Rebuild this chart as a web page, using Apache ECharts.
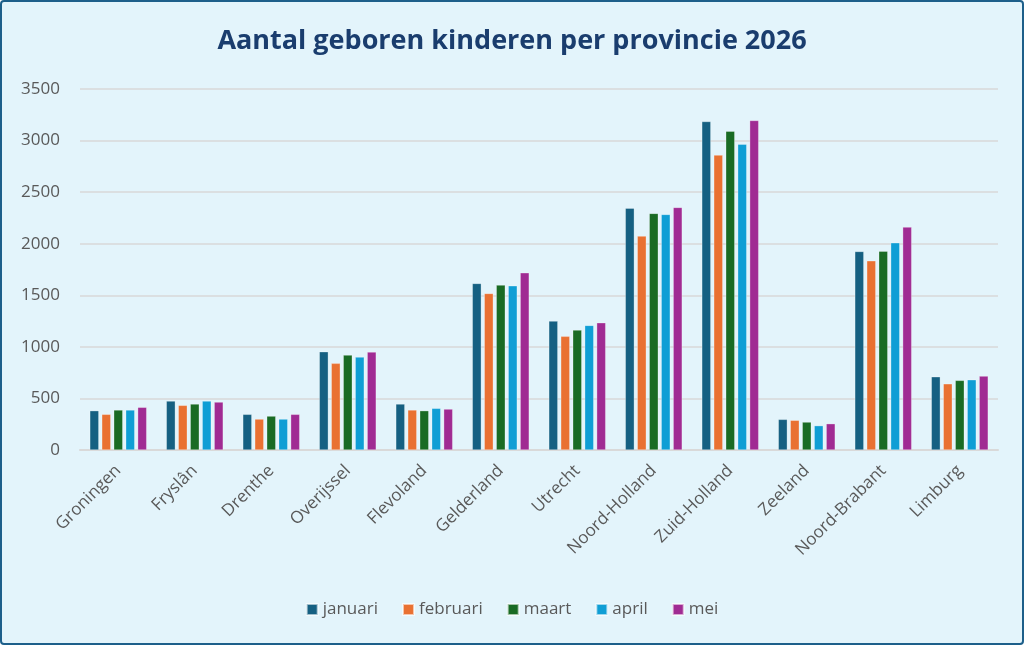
<!DOCTYPE html>
<html>
<head>
<meta charset="utf-8">
<script src="https://cdn.jsdelivr.net/npm/echarts@6/dist/echarts.min.js"></script>
<style>
  html, body { margin: 0; padding: 0; background: #ffffff; }
  #chart {
    width: 1024px; height: 645px; box-sizing: border-box;
    border: 2px solid #1d5f8a; border-radius: 4px; background: #e3f4fb;
  }
</style>
</head>
<body>
<div id="chart"></div>
<script>
// provinces
const provincies = ['Groningen', 'Fryslân', 'Drenthe', 'Overijssel', 'Flevoland', 'Gelderland',
  'Utrecht', 'Noord-Holland', 'Zuid-Holland', 'Zeeland', 'Noord-Brabant', 'Limburg'];

// births per month
const januari  = [381, 475, 346, 953, 446, 1615, 1250, 2345, 3185, 297, 1925, 710];
const februari = [346, 433, 300, 840, 388, 1518, 1102, 2074, 2859, 288, 1834, 642];
const maart    = [388, 446, 329, 920, 381, 1599, 1163, 2294, 3091, 271, 1928, 675];
const april    = [388, 475, 300, 901, 404, 1592, 1208, 2284, 2965, 236, 2009, 681];
const mei      = [414, 465, 346, 950, 397, 1718, 1234, 2352, 3195, 255, 2161, 717];

const maanden = ['januari', 'februari', 'maart', 'april', 'mei'];
const kleuren = ['#156082', '#e97132', '#196b24', '#0f9ed5', '#a02b93'];
const reeksen = [januari, februari, maart, april, mei];

const font = '"Open Sans", "Noto Sans", sans-serif';
const chart = echarts.init(document.getElementById('chart'));

chart.setOption({
  animation: false,
  textStyle: { fontFamily: font },
  title: {
    text: 'Aantal geboren kinderen per provincie 2026',
    left: 'center', top: 21,
    textStyle: { fontFamily: font, fontSize: 27, fontWeight: 'bold', color: '#1a3d6e' }
  },
  legend: {
    bottom: 20, left: 'center',
    itemWidth: 11, itemHeight: 11, itemGap: 24,
    icon: 'rect',
    textStyle: { fontFamily: font, fontSize: 17, color: '#595959' },
    data: maanden
  },
  grid: { left: 78, right: 24, top: 87, bottom: 193 },
  xAxis: {
    type: 'category',
    data: provincies,
    axisLine: { lineStyle: { color: '#d9d9d9', width: 2 } },
    axisTick: { show: false },
    axisLabel: { rotate: 45, fontSize: 17, color: '#595959', margin: 18, interval: 0 }
  },
  yAxis: {
    type: 'value',
    min: 0, max: 3500, interval: 500,
    axisLine: { show: false },
    axisTick: { show: false },
    axisLabel: { fontSize: 17, color: '#595959', margin: 20, formatter: v => String(v) },
    splitLine: { lineStyle: { color: '#d9d9d9', width: 1.5 } }
  },
  series: reeksen.map((data, i) => ({
    name: maanden[i],
    type: 'bar',
    data: data,
    barWidth: 9,
    barGap: '33%',
    itemStyle: { color: kleuren[i], borderColor: 'rgba(255,255,255,0.6)', borderWidth: 0.5 }
  }))
});
</script>
</body>
</html>
